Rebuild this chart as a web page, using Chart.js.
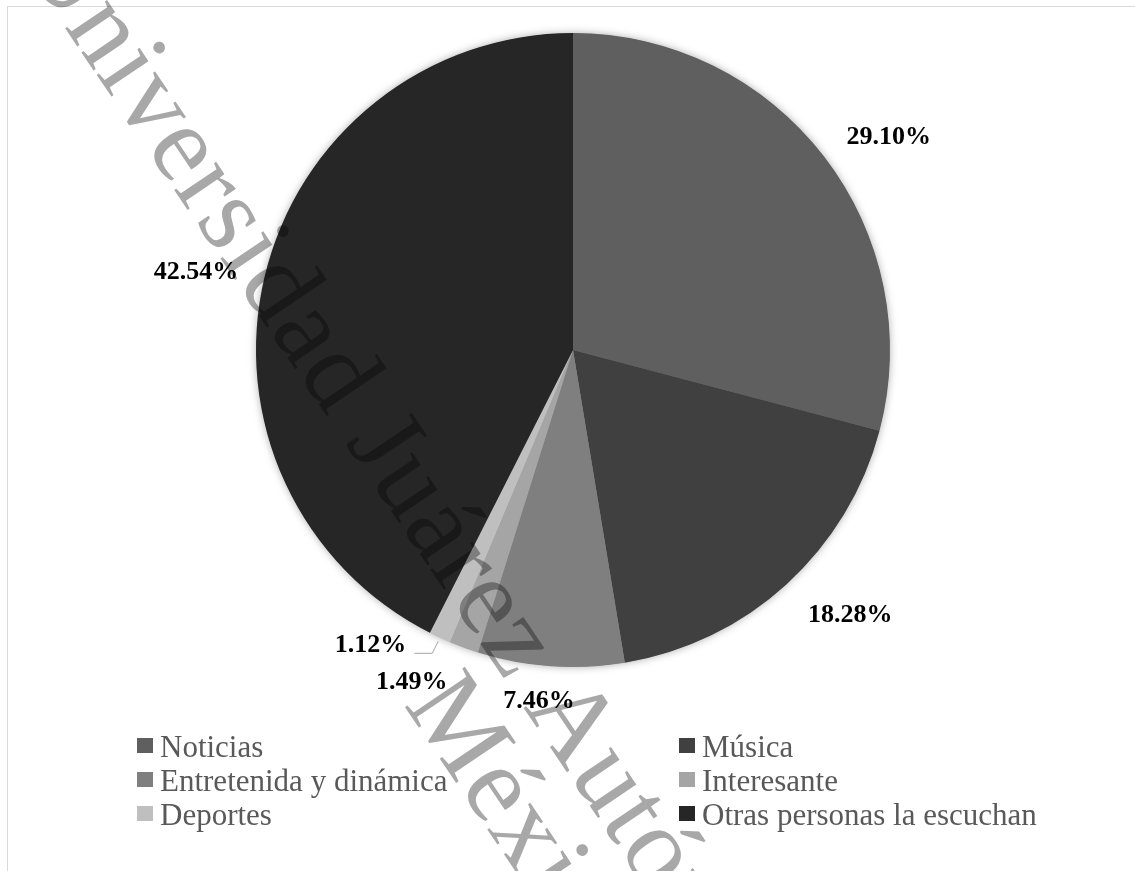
<!DOCTYPE html>
<html>
<head>
<meta charset="utf-8">
<script src="https://cdn.jsdelivr.net/npm/chart.js@4.4.1/dist/chart.umd.min.js"></script>
<style>
html,body{margin:0;padding:0;background:#fff;}
canvas{display:block;}
</style>
</head>
<body>
<canvas id="c" width="1135" height="871"></canvas>
<script>
const categories = ['Noticias', 'Música', 'Entretenida y dinámica', 'Interesante', 'Deportes', 'Otras personas la escuchan'];
const values = [29.10, 18.28, 7.46, 1.49, 1.12, 42.54];
const valueLabels = ['29.10%', '18.28%', '7.46%', '1.49%', '1.12%', '42.54%'];
const sliceColors = ['#5f5f5f', '#404040', '#7f7f7f', '#a5a5a5', '#bfbfbf', '#262626'];

// label placement nudges: [angle offset in degrees, extra radius in px]
const labelNudge = [[3.6, 64], [-3.9, 67], [1.5, 36], [5.8, 52], [9.6, 41], [-1.7, 68]];
const leaderIndex = 4;

const watermarkLine1a = 'Universidad Juárez ';
const watermarkLine1b = 'Autónoma de Tabasco';
const watermarkLine2 = 'México';

const bgPlugin = {
  id: 'bg',
  beforeDraw(chart) {
    const ctx = chart.ctx;
    ctx.save();
    ctx.fillStyle = '#ffffff';
    ctx.fillRect(0, 0, chart.width, chart.height);
    ctx.strokeStyle = '#d9d9d9';
    ctx.lineWidth = 1;
    ctx.strokeRect(7.5, 6.5, 3000, 3000);
    ctx.restore();
  },
  beforeDatasetsDraw(chart) {
    const meta = chart.getDatasetMeta(0);
    const a = meta.data[0];
    const ctx = chart.ctx;
    ctx.save();
    ctx.shadowColor = 'rgba(0,0,0,0.35)';
    ctx.shadowBlur = 9;
    ctx.fillStyle = '#888';
    ctx.beginPath();
    ctx.arc(a.x, a.y, a.outerRadius - 0.5, 0, Math.PI * 2);
    ctx.fill();
    ctx.restore();
  }
};

const labelPlugin = {
  id: 'labels',
  afterDatasetsDraw(chart) {
    const ctx = chart.ctx;
    const meta = chart.getDatasetMeta(0);
    ctx.save();
    ctx.font = 'bold 26px "Liberation Serif", "Times New Roman", serif';
    ctx.fillStyle = '#000';
    ctx.textAlign = 'center';
    ctx.textBaseline = 'middle';
    meta.data.forEach((arc, i) => {
      const mid = (arc.startAngle + arc.endAngle) / 2;
      const ang = mid + labelNudge[i][0] * Math.PI / 180;
      const r = arc.outerRadius + labelNudge[i][1];
      const lx = arc.x + Math.cos(ang) * r;
      const ly = arc.y + Math.sin(ang) * r;
      ctx.fillText(valueLabels[i], lx, ly);
      if (i === leaderIndex) {
        const w = ctx.measureText(valueLabels[i]).width;
        const ex = arc.x + Math.cos(mid) * (arc.outerRadius + 4);
        const ey = arc.y + Math.sin(mid) * (arc.outerRadius + 4);
        ctx.save();
        ctx.strokeStyle = '#a6a6a6';
        ctx.lineWidth = 1;
        ctx.beginPath();
        ctx.moveTo(lx + w / 2 + 8, ly + 8);
        ctx.lineTo(ex - 6, ly + 8);
        ctx.lineTo(ex, ey);
        ctx.stroke();
        ctx.restore();
      }
    });
    ctx.restore();

    // legend (two columns)
    const colX = [137, 679];
    const firstBaseline = 757;
    const rowH = 34;
    ctx.save();
    ctx.font = '31px "Liberation Serif", "Times New Roman", serif';
    ctx.textBaseline = 'alphabetic';
    ctx.textAlign = 'left';
    categories.forEach((name, i) => {
      const col = i % 2;
      const row = Math.floor(i / 2);
      const x = colX[col];
      const base = firstBaseline + row * rowH;
      ctx.fillStyle = sliceColors[i];
      ctx.fillRect(x, base - 19, 16, 15);
      ctx.fillStyle = '#595959';
      ctx.fillText(name, x + 23, base);
    });
    ctx.restore();
  },
  afterDraw(chart) {
    const ctx = chart.ctx;
    ctx.save();
    ctx.globalCompositeOperation = 'multiply';
    ctx.fillStyle = '#a8a8a8';
    ctx.translate(523, 707);
    ctx.rotate(56 * Math.PI / 180);
    ctx.font = '110px "Liberation Serif", "Times New Roman", serif';
    ctx.letterSpacing = '1.5px';
    ctx.textBaseline = 'alphabetic';
    ctx.textAlign = 'left';
    const w = ctx.measureText(watermarkLine1a).width;
    ctx.fillText(watermarkLine1a, -w, 0);
    ctx.fillText(watermarkLine1b, 0, 0);
    ctx.fillText(watermarkLine2, -69, 98);
    ctx.restore();
  }
};

new Chart(document.getElementById('c'), {
  type: 'pie',
  data: {
    labels: categories,
    datasets: [{
      data: values,
      backgroundColor: sliceColors,
      borderWidth: 0,
      hoverOffset: 0
    }]
  },
  options: {
    responsive: false,
    animation: false,
    events: [],
    layout: { padding: { left: 256, right: 245, top: 33, bottom: 204 } },
    plugins: {
      legend: { display: false },
      tooltip: { enabled: false }
    }
  },
  plugins: [bgPlugin, labelPlugin]
});
</script>
</body>
</html>
